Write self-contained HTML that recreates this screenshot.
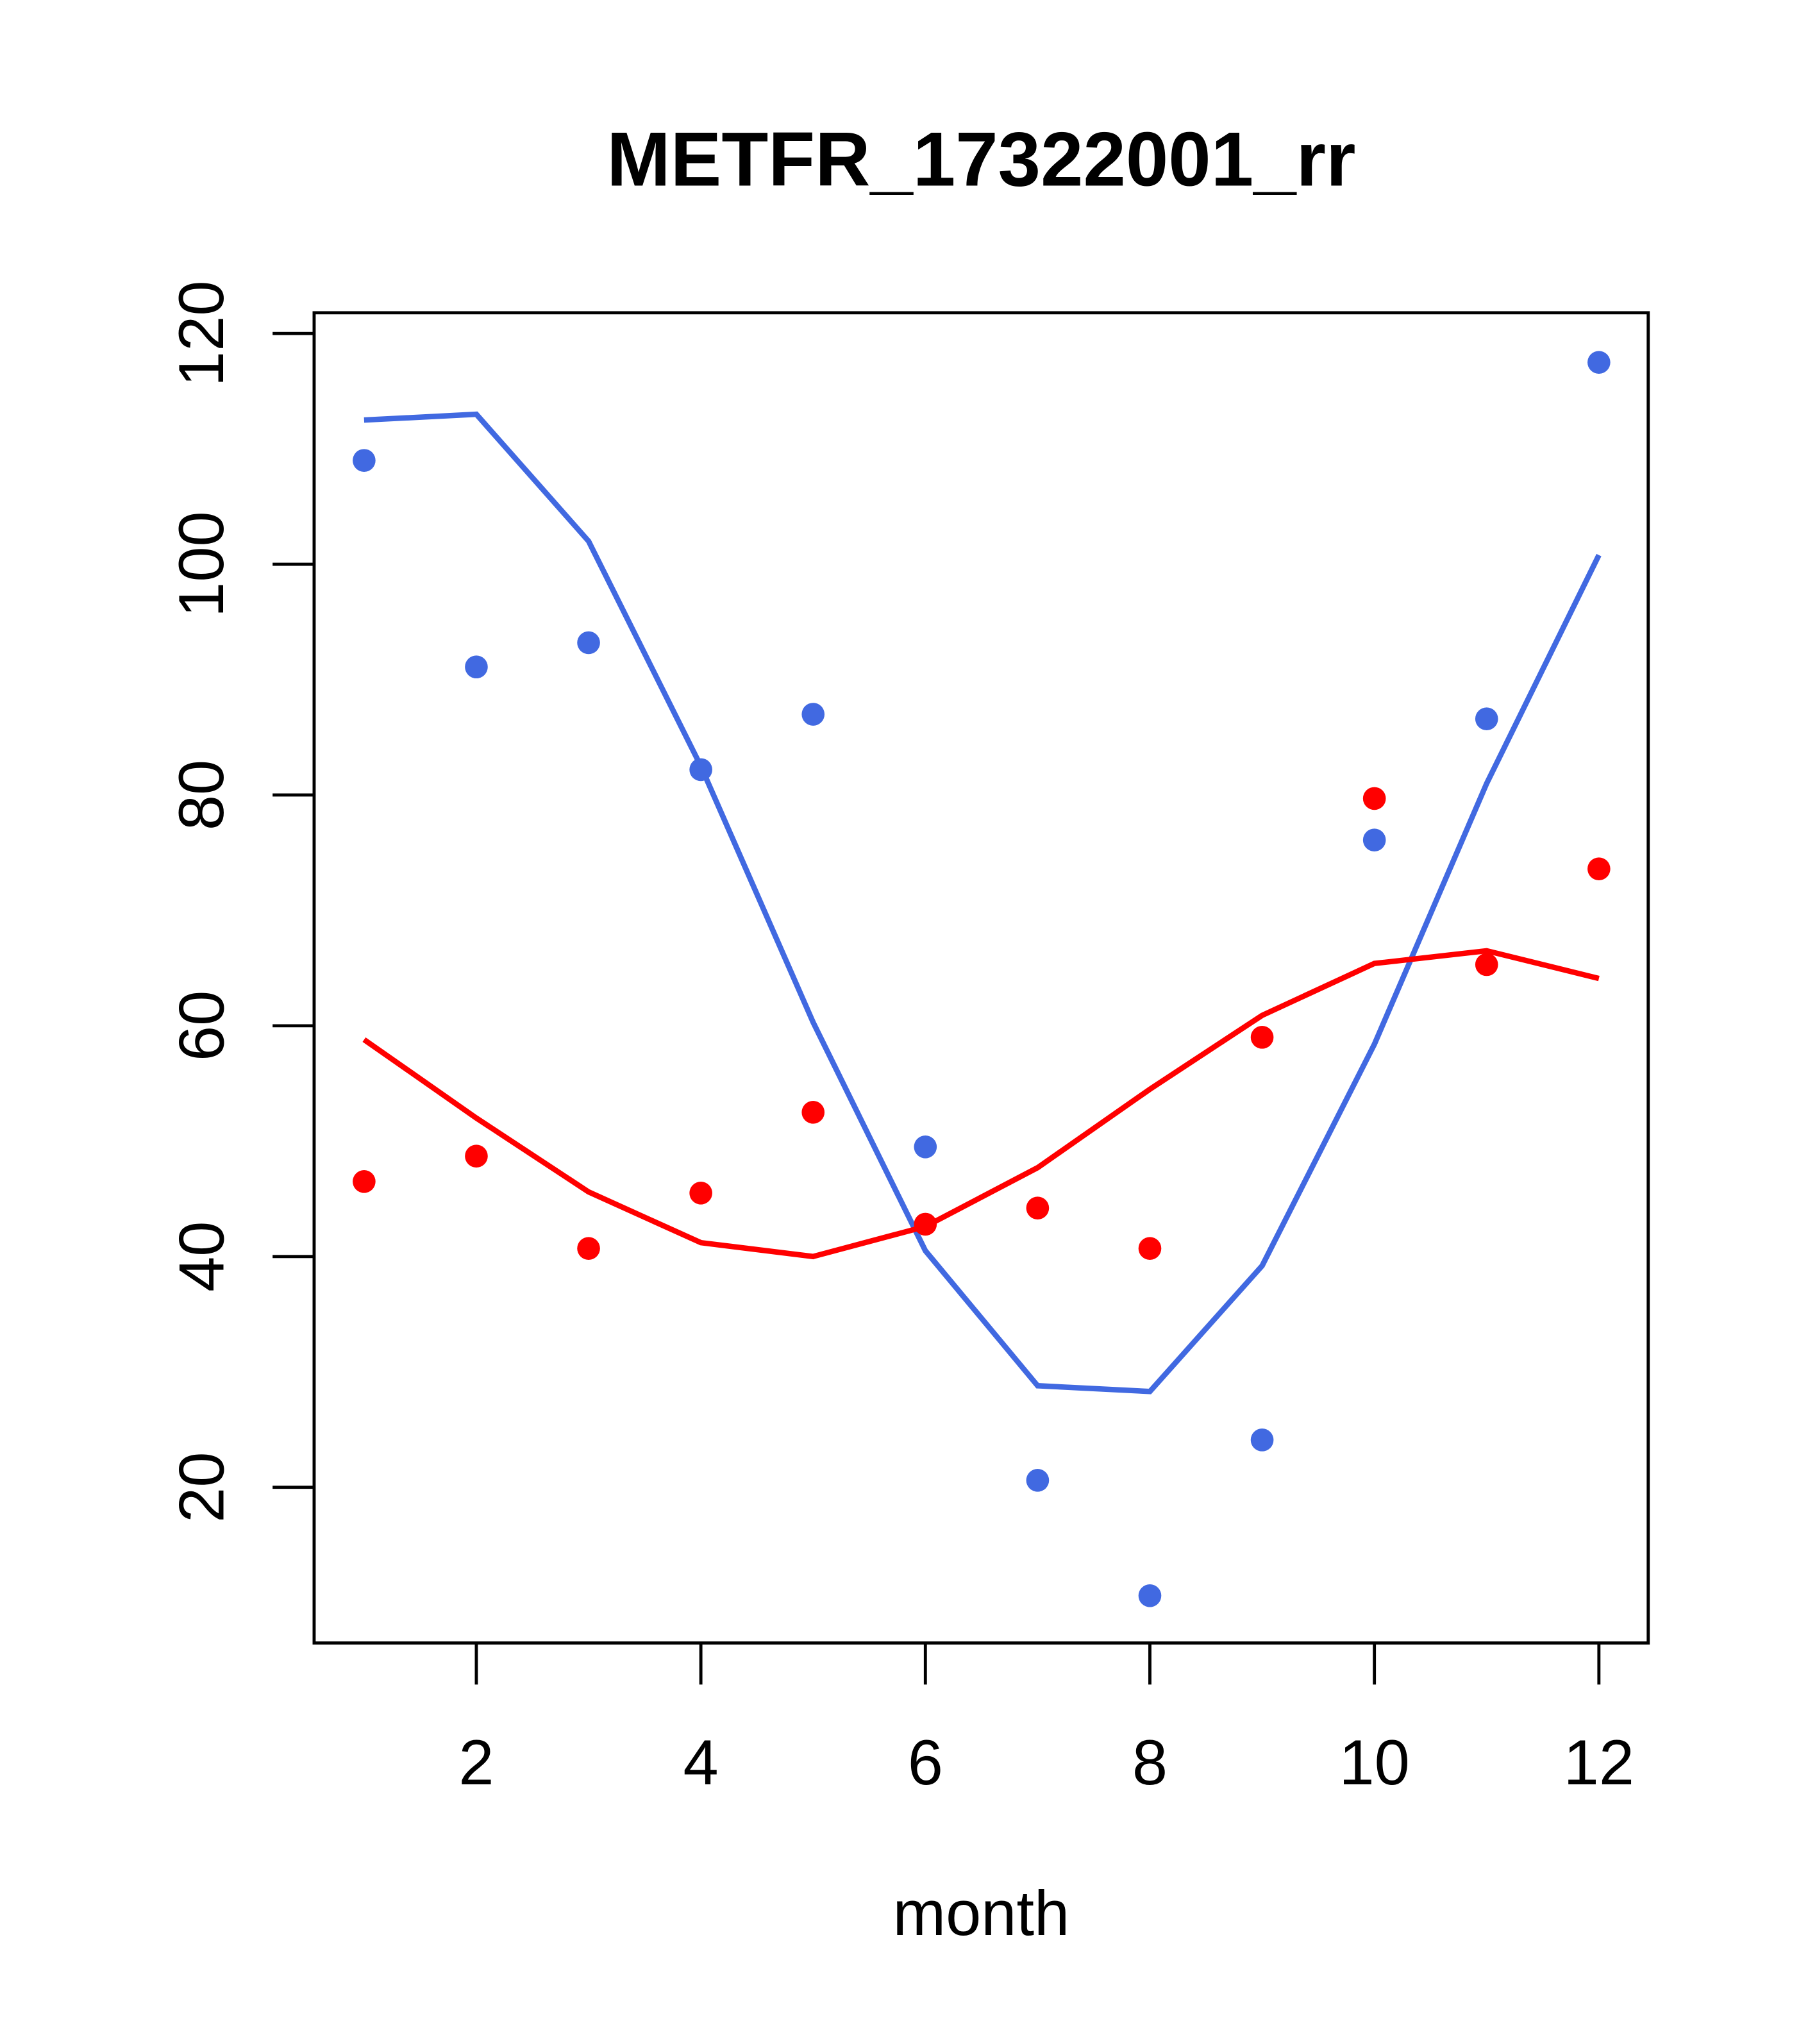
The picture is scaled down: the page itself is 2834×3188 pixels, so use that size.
<!DOCTYPE html>
<html><head><meta charset="utf-8"><style>html,body{margin:0;padding:0;background:#fff}svg{display:block}</style></head>
<body>
<svg id="chart" width="2834" height="3188" viewBox="0 0 1400 1575" xmlns="http://www.w3.org/2000/svg" font-family="Liberation Sans, sans-serif">
<rect width="1400" height="1575" fill="#fff"/>
<text x="756" y="143" font-size="59" font-weight="bold" text-anchor="middle">METFR_17322001_rr</text>
<rect x="242" y="241" width="1028" height="1025" fill="none" stroke="#000" stroke-width="2.4"/>
<text x="756" y="1491" font-size="49" text-anchor="middle">month</text>
<g id="axes"></g>
<g id="marks"></g>
</svg>
<script>
const months = [1,2,3,4,5,6,7,8,9,10,11,12];
const bluePoints = [109,91.1,93.2,82.2,87,49.5,20.6,10.6,24.1,76.1,86.6,117.5];
const blueLine = [112.5,113,102,82.5,60.3,40.5,28.8,28.3,39.2,58.4,81,100.8];
const redPoints = [46.5,48.7,40.7,45.5,52.5,42.8,44.2,40.7,59,79.7,65.3,73.6];
const redLine = [58.8,52,45.6,41.2,40,42.6,47.7,54.5,60.9,65.4,66.5,64.1];
const xTicks = [2,4,6,8,10,12];
const yTicks = [20,40,60,80,100,120];

const NS = "http://www.w3.org/2000/svg";
const X = m => 367 + (m - 2) * 86.5;
const Y = v => 257 + (120 - v) * 8.89;
const axes = document.getElementById('axes');
const marks = document.getElementById('marks');
function mk(tag, attrs, parent){const e=document.createElementNS(NS,tag);for(const k in attrs)e.setAttribute(k,attrs[k]);parent.appendChild(e);return e;}

xTicks.forEach(t=>{
  const l=mk('line',{x1:X(t),x2:X(t),y1:1266,y2:1298,stroke:'#000','stroke-width':2.4},axes);
  
  
  const tx=mk('text',{x:X(t),y:1375,'font-size':49,'text-anchor':'middle'},axes);
  tx.textContent=t;
  
  
});
yTicks.forEach(t=>{
  const l=mk('line',{x1:210,x2:242,y1:Y(t),y2:Y(t),stroke:'#000','stroke-width':2.4},axes);
  
  
  const tx=mk('text',{x:172,y:Y(t),'font-size':49,'text-anchor':'middle',transform:`rotate(-90 172 ${Y(t)})`},axes);
  tx.textContent=t;
  
  
});

function line(vals,color,name){
  const p=mk('polyline',{points:vals.map((v,i)=>X(months[i])+','+Y(v)).join(' '),fill:'none',stroke:color,'stroke-width':4.2},marks);
  
  
}
function pts(vals,color,name){
  vals.forEach((v,i)=>{
    const c=mk('circle',{cx:X(months[i]),cy:Y(v),r:8.8,fill:color},marks);
    
    
  });
}
line(blueLine,'#4169E1','blue-series-line');
line(redLine,'#FF0000','red-series-line');
pts(bluePoints,'#4169E1','blue-point');
pts(redPoints,'#FF0000','red-point');
</script>
</body></html>
